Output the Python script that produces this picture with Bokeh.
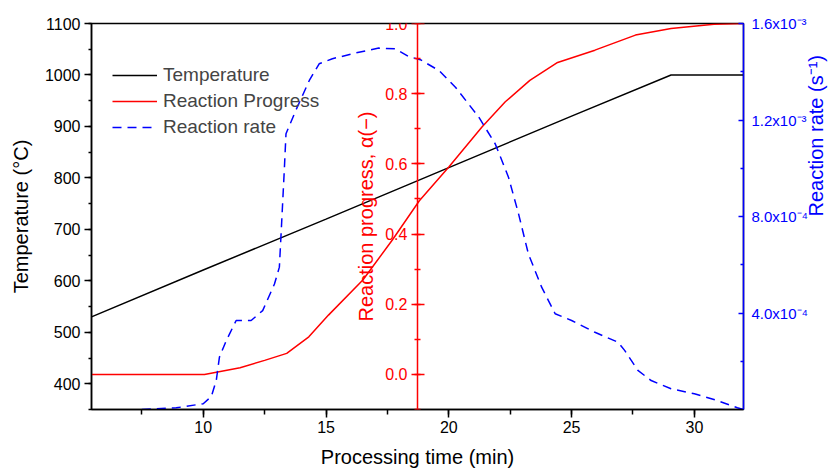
import math
from bokeh.plotting import figure
from bokeh.models import (Range1d, LinearAxis, SingleIntervalTicker, FixedTicker,
                          Legend, LegendItem, Label, NumeralTickFormatter)
from bokeh.embed import file_html
from bokeh.resources import INLINE

# ---------------- data ----------------
time_temp = [5.45, 10.0, 15.0, 20.0, 25.0, 29.05, 32.0]
temperature = [530, 621, 720, 820, 920, 1000, 1000]

time_progress = [5.45, 10.05, 11.5, 12.5, 13.4, 14.3, 15.1, 16.5, 17.7, 18.8,
                 20.0, 21.35, 22.3, 23.3, 24.4, 25.95, 27.6, 29.05, 30.8, 32.0]
progress = [0.0, 0.0, 0.019, 0.04, 0.06, 0.107, 0.169, 0.269, 0.383, 0.495,
            0.591, 0.705, 0.777, 0.838, 0.888, 0.924, 0.967, 0.986, 0.998, 1.0]

time_rate = [7.5, 8.9, 10.0, 10.33, 10.53, 10.66, 10.94, 11.34, 11.95, 12.42,
             12.9, 13.1, 13.17, 13.3, 13.37, 13.77, 14.32, 14.72, 15.26, 16.34,
             17.15, 17.83, 18.37, 18.84, 19.6, 20.27, 21.22, 21.89, 22.43, 22.84,
             23.24, 23.78, 24.33, 25.0, 25.95, 26.89, 27.16, 27.7, 28.24, 29.05,
             30.0, 30.94, 31.75, 32.0]
rate = [0.0, 0.007e-3, 0.024e-3, 0.054e-3, 0.12e-3, 0.217e-3, 0.286e-3, 0.369e-3, 0.369e-3, 0.41e-3,
        0.52e-3, 0.59e-3, 0.728e-3, 0.99e-3, 1.143e-3, 1.24e-3, 1.364e-3, 1.433e-3, 1.454e-3, 1.481e-3,
        1.498e-3, 1.495e-3, 1.463e-3, 1.45e-3, 1.405e-3, 1.336e-3, 1.212e-3, 1.101e-3, 0.963e-3, 0.811e-3,
        0.645e-3, 0.507e-3, 0.397e-3, 0.369e-3, 0.32e-3, 0.279e-3, 0.245e-3, 0.162e-3, 0.12e-3, 0.086e-3,
        0.065e-3, 0.037e-3, 0.007e-3, 0.0]

progress_axis_time = 18.72
rate_ticks = [4e-4, 8e-4, 1.2e-3, 1.6e-3]
rate_minor_ticks = [2e-4, 6e-4, 1.0e-3, 1.4e-3]
rate_tick_labels = ["4.0x10⁻⁴", "8.0x10⁻⁴", "1.2x10⁻³", "1.6x10⁻³"]

FONT = "Liberation Sans"
X_START, X_END = 5.45, 32.0

p = figure(width=840, height=472, output_backend="svg", toolbar_location=None,
           x_range=Range1d(X_START, X_END), y_range=Range1d(350, 1100),
           min_border_left=91, min_border_right=96, min_border_top=23, min_border_bottom=63)
p.extra_y_ranges = {"progress": Range1d(-0.1, 1.0), "rate": Range1d(0, 1.6e-3)}
p.grid.visible = False
p.outline_line_color = "black"
p.outline_line_width = 1.5
p.background_fill_color = "white"
p.border_fill_color = "white"

def style_axis(ax, color):
    ax.axis_line_color = color
    ax.axis_line_width = 1.5
    ax.major_tick_line_color = color
    ax.minor_tick_line_color = color
    ax.major_tick_line_width = 1.5
    ax.minor_tick_line_width = 1.5
    ax.major_label_text_color = color
    ax.major_label_text_font = FONT
    ax.major_label_text_font_size = "16px"
    ax.axis_label_text_color = color
    ax.axis_label_text_font = FONT
    ax.axis_label_text_font_size = "20px"
    ax.axis_label_text_font_style = "normal"

xaxis = p.xaxis[0]
style_axis(xaxis, "black")
xaxis.ticker = SingleIntervalTicker(interval=5, num_minor_ticks=2)
xaxis.major_tick_out = 8
xaxis.major_tick_in = 0
xaxis.minor_tick_out = 5
xaxis.minor_tick_in = 0
xaxis.major_label_standoff = 3
xaxis.axis_label = "Processing time (min)"
xaxis.axis_label_standoff = 10

yaxis = p.yaxis[0]
style_axis(yaxis, "black")
yaxis.ticker = SingleIntervalTicker(interval=100, num_minor_ticks=2)
yaxis.major_tick_out = 7
yaxis.major_tick_in = 0
yaxis.minor_tick_out = 3
yaxis.minor_tick_in = 0
yaxis.major_label_standoff = 4
yaxis.axis_label = "Temperature (°C)"
yaxis.axis_label_standoff = 10

raxis = LinearAxis(y_range_name="rate",
                   ticker=FixedTicker(ticks=rate_ticks, minor_ticks=rate_minor_ticks),
                   major_label_overrides=dict(zip(rate_ticks, rate_tick_labels)))
style_axis(raxis, "blue")
raxis.major_label_text_font_size = "15px"
raxis.major_tick_in = 5
raxis.major_tick_out = 0
raxis.minor_tick_in = 3
raxis.minor_tick_out = 0
raxis.major_label_standoff = 8
raxis.axis_label = "Reaction rate (s⁻¹)"
raxis.axis_label_standoff = 5
raxis.axis_label_orientation = math.pi / 2
p.add_layout(raxis, "right")

paxis = LinearAxis(y_range_name="progress", fixed_location=progress_axis_time,
                   ticker=SingleIntervalTicker(interval=0.2, num_minor_ticks=2),
                   formatter=NumeralTickFormatter(format="0.0"))
style_axis(paxis, "red")
paxis.major_tick_in = 7
paxis.major_tick_out = 6
paxis.minor_tick_in = 3
paxis.minor_tick_out = 3
paxis.major_label_standoff = 4
p.add_layout(paxis, "left")

plabel = Label(x=progress_axis_time, y=0.45, y_range_name="progress", x_offset=-51,
               text="Reaction progress, α(−)", angle=math.pi / 2,
               text_align="center", text_baseline="middle", text_color="red",
               text_font=FONT, text_font_size="20px")
p.add_layout(plabel)

r_temp = p.line(time_temp, temperature, color="black", line_width=1.5)
r_prog = p.line(time_progress, progress, color="red", line_width=1.5, y_range_name="progress")
r_rate = p.line(time_rate, rate, color="blue", line_width=1.5, line_dash="9 6", y_range_name="rate")

legend = Legend(items=[LegendItem(label="Temperature", renderers=[r_temp]),
                       LegendItem(label="Reaction Progress", renderers=[r_prog]),
                       LegendItem(label="Reaction rate", renderers=[r_rate])],
                location=(21, 269), border_line_alpha=0, background_fill_alpha=0,
                label_text_font=FONT, label_text_font_size="19px",
                glyph_width=45, glyph_height=26, label_height=26, spacing=0,
                padding=0, margin=0, label_standoff=6)
p.add_layout(legend)

open("out.html", "w").write(file_html(p, INLINE))
